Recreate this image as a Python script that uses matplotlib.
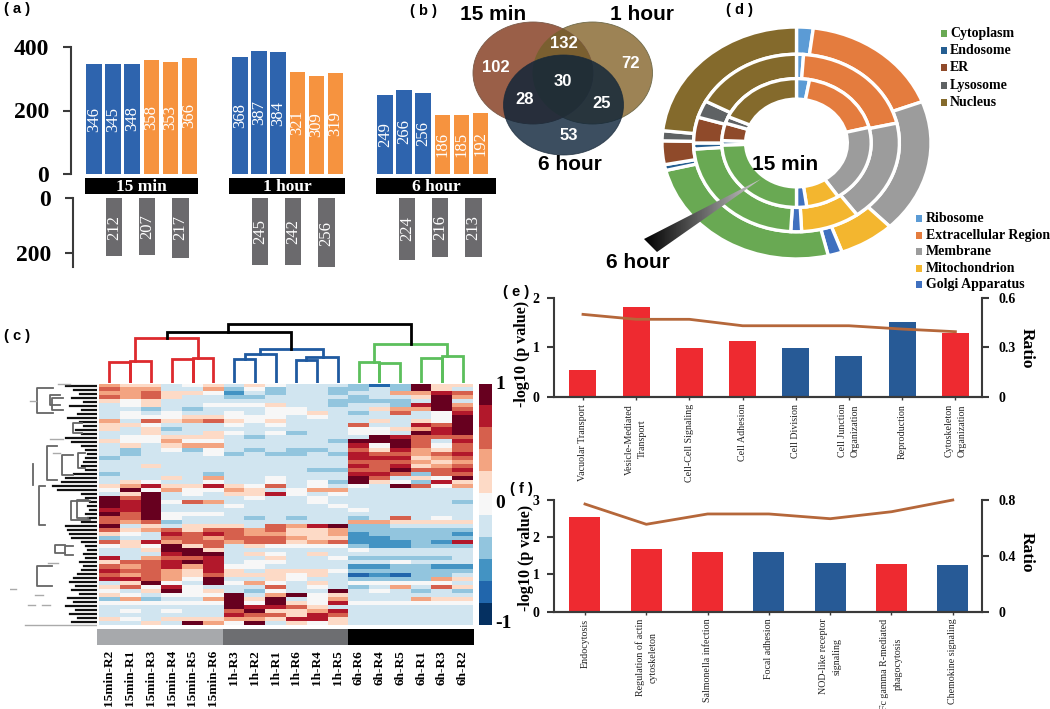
"""Multi-panel proteomics figure: counts, Venn, heatmap, donut, enrichment bars."""

import matplotlib

matplotlib.use("Agg")
import matplotlib.pyplot as plt
import numpy as np
from matplotlib.patches import Ellipse, Polygon, Rectangle

W, H = 1050, 709
SERIF = "Liberation Serif"
SANS = "Liberation Sans"

# panel a
TIME_LABELS = ["15 min", "1 hour", "6 hour"]
UP_BLUE = [[346, 345, 348], [368, 387, 384], [249, 266, 256]]
UP_ORANGE = [[358, 353, 366], [321, 309, 319], [186, 185, 192]]
DOWN_GRAY = [[212, 207, 217], [245, 242, 256], [224, 216, 213]]

# panel b
VENN_COUNTS = ["102", "132", "72", "30", "28", "25", "53"]

# panel d, clockwise from 12 o'clock
CELL_PARTS = ["Ribosome", "Extracellular Region", "Membrane", "Mitochondrion", "Golgi Apparatus",
              "Cytoplasm", "Endosome", "ER", "Lysosome", "Nucleus"]
RING_15MIN = [2.8, 18.3, 19.5, 7.2, 2.2, 24.5, 1.1, 4.4, 1.7, 18.3]
RING_1H = [1.1, 20.3, 18.6, 9.2, 1.7, 23.0, 1.1, 4.7, 3.1, 17.2]
RING_6H = [2.0, 17.2, 18.6, 6.7, 1.7, 25.0, 0.8, 3.3, 1.4, 23.3]

# panel c, colour levels -5..5 read per row (top to bottom)
SAMPLES = ["15min-R2", "15min-R1", "15min-R3", "15min-R4", "15min-R5", "15min-R6",
           "1h-R3", "1h-R2", "1h-R1", "1h-R6", "1h-R4", "1h-R5",
           "6h-R6", "6h-R4", "6h-R5", "6h-R1", "6h-R3", "6h-R2"]
HEAT_TOP = [
    [2, 1, 1, -1, 0, 1, -1, 1, 0, -1, -1, -1, -2, -4, -2, 5, 1, 1],
    [3, 2, 2, -1, -1, 2, -2, 0, -2, -1, -1, -2, -2, -1, -2, 5, 1, -1],
    [2, 2, 3, 1, 1, 0, -3, -1, -2, -1, -1, -2, -1, -1, 2, 2, 4, 3],
    [3, 2, 3, 1, -1, -1, -2, -2, -1, -1, -1, -1, -2, -1, -1, 1, 5, 2],
    [1, 0, 1, -1, -1, -1, -1, -1, -1, -1, -1, -2, -2, -2, -2, -1, 5, -1],
    [-1, 0, 1, -1, -1, 0, 0, 0, 1, -1, -1, -2, -1, -1, -2, 4, 5, 2],
    [-1, -1, -2, -1, -2, -1, -1, -1, 0, 0, -1, -1, -1, 1, 2, 2, 5, 3],
    [-1, 0, -1, 0, -1, -1, 0, -1, 0, 0, 1, -1, -2, -1, 3, -1, 0, 4],
    [-1, 0, 0, 0, 1, 1, 0, 0, 0, -1, 0, -1, -1, -1, -1, -1, 0, 5],
    [2, -1, 3, 1, 2, 3, 1, 0, 1, -1, -1, -1, -1, 1, -1, 1, 0, 5],
    [1, 1, 0, -1, -1, -1, 0, -1, 0, -1, -1, -1, 3, -1, -1, 4, 3, 5],
    [1, -1, 1, -2, -1, -1, -1, -1, -1, -1, -1, -1, 0, 0, 1, 2, 4, 5],
    [-1, -1, 1, -1, -1, 1, 0, -1, 0, -2, -1, -1, 0, 0, -1, 5, 4, 5],
    [-1, 0, 0, 1, 1, 1, -1, -2, -1, -1, -1, -1, -1, 5, 4, 3, 3, 3],
    [1, 0, 0, 2, 0, 0, -1, -1, -1, -1, -1, -2, 5, 5, 5, 3, -1, 4],
]
HEAT_6H_BLOCK = [
    [-1, 1, -1, 1, 2, 2, -1, -1, -1, -1, -1, -1, 4, 0, 5, 3, 0, 3],
    [-1, -2, -1, 0, -2, 0, -1, -2, -1, -2, -2, -1, 3, 1, 4, 2, 1, 3],
    [-1, -2, -1, -1, -1, 0, -2, -1, -2, -2, -1, -2, 4, 3, 3, 2, 3, 4],
    [-2, -1, -1, -1, -1, -1, -1, -1, -1, -1, -1, -1, 4, 4, 4, 1, 2, 3],
    [-1, -1, -1, -1, -1, -1, -1, -1, -1, -1, -1, -1, 3, 3, 3, 2, 1, 2],
    [-1, -1, 1, -1, -1, -1, -1, -1, -1, -1, -1, -1, 4, 3, 4, 1, 2, 3],
    [-1, -1, -1, -1, -1, -1, -1, -1, -1, -1, -2, -2, 3, 3, 5, 3, 3, 4],
    [-2, -1, -1, -1, -1, -2, -1, -1, -1, -1, -1, -1, 4, 4, 3, -2, 3, 3],
    [-1, -1, -1, 1, -1, 2, -1, -1, 0, -1, -1, -1, 5, 3, -1, 1, 0, 5],
    [-1, 1, 0, -1, -1, 0, -1, -1, 0, -1, 0, -2, 5, 1, 0, -2, 4, 1],
]
HEAT_15MIN_BLOCK = [
    [1, 2, 4, 1, 1, 4, 1, 0, 3, -1, 0, -1, 0, -1, 5, 3, 0, 2],
    [0, 5, 0, 2, 0, 0, 2, 1, -1, 0, 2, 2, -1, -1, -1, -1, -1, -1],
    [-1, 1, 5, -1, 0, -1, 1, 1, 4, 0, -1, 0, -1, -1, -1, -1, -1, -1],
    [5, 3, 5, -1, -1, -1, -1, 0, -1, -1, 0, -1, -1, -1, -1, -1, -1, -1],
    [5, 4, 5, 0, 3, 2, -1, -1, -1, -1, 0, -1, -1, -1, -1, -1, -1, -2],
    [5, 4, 5, -1, -1, -1, 0, -1, -1, -1, -1, 0, -1, -1, -1, -1, -1, -1],
    [4, 4, 5, -1, -1, -1, -1, -1, -1, -1, -1, -1, 0, -1, -1, -1, -1, -1],
    [5, 3, 5, 0, 0, 0, -1, -1, -1, -1, -1, -1, -1, -1, -1, -1, -1, -1],
    [3, 3, 5, 0, -1, -1, -1, -2, -1, -2, -1, -1, -2, -1, 3, -1, 0, -1],
    [3, 2, 3, -2, -1, -1, -1, -1, -1, -1, -1, -1, 2, 2, 1, 1, 1, 1],
    [5, -1, 1, -1, 1, 1, 1, -1, 3, 2, 4, 5, -2, -2, -1, -1, -1, -1],
]
HEAT_MID = [
    [3, 1, 2, 3, 1, 3, 3, 2, 3, 1, 1, 2, -2, -2, -2, -2, -2, -2],
    [1, 0, -1, 4, 3, 4, 3, 2, 2, 1, 1, 2, -3, -2, -2, -2, -2, -3],
    [-2, -1, -1, 3, 3, 2, 3, 3, 3, 2, 1, 1, -3, -3, -2, -2, -2, -2],
    [3, 1, 4, 2, 3, 3, 2, 3, 3, 1, 2, 3, -3, -3, -3, -2, -3, 4],
    [0, 1, 0, 5, 1, 3, -1, 1, 0, 0, 0, 0, -2, -3, -3, -2, -2, -2],
    [-1, -1, 1, 5, 5, 1, -1, -1, -1, -1, -1, -1, 0, -1, -1, -1, -1, -1],
    [-1, -1, -1, 4, 5, 5, -1, 1, 0, -1, 1, -1, -1, -1, -1, -1, -1, -1],
    [4, -1, 2, 3, 3, 4, -1, -1, 1, -1, -1, 0, -2, -2, -2, -2, -2, -1],
    [1, 3, 3, 4, 5, 4, -1, 0, 0, -1, -1, -1, -1, -1, 0, -1, -1, -1],
    [3, 2, 3, 4, 2, 4, 0, 0, -1, -1, -1, -1, -3, -3, -2, -2, -3, -3],
    [4, 3, 3, 2, 1, 4, 1, -1, 1, 1, 1, 0, -2, -2, -2, -2, -2, -2],
    [3, 2, 3, 2, 1, 3, 1, 1, 1, 0, 1, -1, -4, -3, -4, -2, -2, -1],
    [4, 4, 3, 2, 0, 5, -1, -1, 1, 0, -1, -1, -2, -2, -2, -2, 2, 1],
]
HEAT_1H_BLOCK = [
    [-1, 1, 5, 0, -1, 5, 0, 2, 0, -1, 1, -1, 0, 0, 0, 0, 0, -1],
    [1, 3, 0, 4, 0, -1, -1, -1, 3, -1, 0, -1, -2, -1, 2, -1, 3, 1],
    [0, -1, 1, 5, 0, 1, -1, -2, 0, -1, -1, 5, -1, 0, -1, -2, -1, -2],
    [1, 0, -1, 0, 0, 0, 5, -1, 2, 5, 0, 1, -1, -1, -1, -1, -1, -1],
    [-2, 2, -2, -1, -1, 2, 5, 1, 5, -1, 0, 2, -1, -1, -1, 2, 1, 1],
    [0, 0, 0, 0, 0, 0, 5, 0, 5, 1, 0, 4, 0, 0, 0, 0, 0, 0],
    [-1, -1, -1, -1, -1, -1, 5, 4, 4, 3, 1, -1, -1, -1, -1, -1, -1, -1],
    [-1, 0, -1, 0, -1, -1, 3, 5, 1, 1, 2, 4, -1, -1, -1, -1, -1, -1],
    [-1, -1, -1, -1, -1, -1, 4, 3, 3, 1, 4, 3, -1, -1, -1, -1, -1, -1],
    [1, 0, -1, 1, 1, 1, 2, 2, 1, 4, 4, 1, -1, -1, -1, -1, -1, -1],
    [-1, -1, 1, -1, 5, 2, 0, 5, -1, 1, 0, 1, -1, -1, -1, -1, -1, -1],
]

# leaf lengths of the row dendrogram and a few of its brackets
ROW_LEAF_LEN = [30, 22, 16, 24, 12, 26, 14, 18, 28, 16, 12, 20, 14,
                30, 24, 14, 10, 8, 10, 12, 14, 10, 22, 30, 34,
                43, 38, 14, 10, 6, 8, 6, 10, 8, 14, 30, 28, 26, 24,
                14, 10, 8, 12, 10, 16, 12, 14, 18, 22,
                26, 20, 24, 16, 28, 22, 30, 20, 26, 18, 24]
ROW_BRACKETS = [(80, 30, 105, 130), (70, 258, 320, 70), (112, 205, 305, 140), (88, 325, 440, 105),
                (155, 230, 290, 190), (182, 370, 425, 240), (200, 365, 420, 235), (80, 565, 625, 125),
                (125, 60, 95, 160), (120, 50, 80, 150), (205, 225, 270, 225), (135, 500, 525, 165),
                (165, 505, 530, 190), (190, 135, 165, 215)]
ROW_STRAYS = [(0, 18, 632), (60, 78, 70), (55, 75, 680), (95, 120, 682), (75, 100, 652),
              (45, 258, 740), (115, 145, 555), (145, 180, 18), (130, 150, 225), (120, 160, 183)]

# column dendrogram links: x left, x right, top, left foot, right foot
RED_LINKS = [(0.5, 1.5, 63, 0, 0), (1.5, 2.5, 65, 0, 0), (3.5, 4.5, 72, 0, 0), (4.5, 5.5, 75, 0, 0),
             (1.73, 4.78, 135, 65, 75)]
BLUE_LINKS = [(6.5, 7.5, 73, 0, 0), (7.03, 8.5, 88, 73, 0), (9.5, 10.5, 68, 0, 0), (9.97, 11.5, 78, 68, 0),
              (7.75, 10.77, 101, 88, 78)]
GREEN_LINKS = [(12.5, 13.5, 63, 0, 0), (13.5, 14.5, 60, 0, 0), (15.5, 16.5, 75, 0, 0), (16.5, 17.5, 81, 0, 0),
               (13.24, 16.74, 116, 63, 81)]
BLACK_LINKS = [(3.26, 9.26, 153, 135, 101), (6.23, 15.0, 178, 153, 116)]

# panels e, f
TERMS_E = ["Vacuolar Transport", "Vesicle-Mediated\nTransport", "Cell-Cell Signaling", "Cell Adhesion",
           "Cell Division", "Cell Junction\nOrganization", "Reproduction", "Cytoskeleton\nOrganization"]
PVAL_E = [0.54, 1.82, 0.99, 1.13, 0.99, 0.83, 1.50, 1.28]
RATIO_E = [0.499, 0.469, 0.469, 0.43, 0.43, 0.43, 0.41, 0.394]
IS_UP_E = [1, 1, 1, 1, 0, 0, 0, 1]

TERMS_F = ["Endocytosis", "Regulation of actin\ncytoskeleton", "Salmonella infection", "Focal adhesion",
           "NOD-like receptor\nsignaling", "Fc gamma R-mediated\nphagocytosis", "Chemokine signaling"]
PVAL_F = [2.55, 1.68, 1.60, 1.60, 1.30, 1.27, 1.26]
RATIO_F = [0.771, 0.626, 0.70, 0.70, 0.666, 0.716, 0.80]
IS_UP_F = [1, 1, 1, 0, 0, 1, 0]

PART_COLORS = ["#5b9bd5", "#e47c3e", "#9c9c9c", "#f3b62f", "#3f70bf",
               "#69a953", "#255e91", "#8f4a2a", "#5f6264", "#846a2c"]
RED, BLUE = "#ee2a30", "#275a96"
AXIS_DARK = "#3a3a3a"


def px_axes(fig, x0, y0, x1, y1, **kwargs):
    # axes box given in image pixels, y measured from the top
    return fig.add_axes([x0 / W, 1 - y1 / H, (x1 - x0) / W, (y1 - y0) / H], **kwargs)


def strip_axes(ax, keep=("left",)):
    for side, spine in ax.spines.items():
        spine.set_visible(side in keep)
        spine.set_color(AXIS_DARK)
        spine.set_linewidth(1.5)
    ax.patch.set_alpha(0)


def draw_counts(fig):
    top = px_axes(fig, 71, 47, 500, 174)
    strip_axes(top)
    top.set_xlim(71, 500)
    top.set_ylim(0, 400)
    for start, blue, orange in zip([94, 240, 385], UP_BLUE, UP_ORANGE):
        vals = blue + orange
        xs = start + 19.1 * np.arange(6)
        colors = ["#2e64ae"] * 3 + ["#f6933f"] * 3
        top.bar(xs, vals, width=15.5, color=colors)
        for x, v in zip(xs, vals):
            top.text(x, v / 2, str(v), rotation=90, color="white", ha="center", va="center",
                     family=SERIF, fontsize=12)
    top.set_xticks([])
    top.set_yticks([0, 200, 400])
    top.tick_params(axis="y", length=6, width=1.5, color=AXIS_DARK, pad=10)
    for t in top.get_yticklabels():
        t.set(family=SERIF, weight="bold", fontsize=17)

    bottom = px_axes(fig, 73, 198, 500, 267)
    strip_axes(bottom)
    bottom.set_xlim(73, 500)
    bottom.set_ylim(251, 0)
    for start, vals in zip([114, 260, 407], DOWN_GRAY):
        xs = start + 33.2 * np.arange(3)
        bottom.bar(xs, vals, width=16.5, color="#6b6a6d")
        for x, v in zip(xs, vals):
            bottom.text(x, v / 2, str(v), rotation=90, color="white", ha="center", va="center",
                        family=SERIF, fontsize=12)
    bottom.set_xticks([])
    bottom.set_yticks([0, 200])
    bottom.tick_params(axis="y", length=6, width=1.5, color=AXIS_DARK, pad=10)
    for t in bottom.get_yticklabels():
        t.set(family=SERIF, weight="bold", fontsize=17)


def draw_venn(over):
    over.add_patch(Ellipse((592.5, 73), 120, 102, fc="#9d8355", ec="#6f6a4a", lw=0.6))
    over.add_patch(Ellipse((533, 73), 120, 102, fc="#9a5f48", ec="#7a5a48", lw=0.6))
    lens = Ellipse((592.5, 73), 120, 102, fc="#7a5f30", ec="none")
    over.add_patch(lens)
    lens.set_clip_path(Ellipse((533, 73), 120, 102, transform=over.transData))
    over.add_patch(Ellipse((563.5, 105), 120, 100, fc="#0b2238", ec="#1a2a3a", lw=0.6, alpha=0.8))
    spots = [(496, 67), (564, 44), (631, 63), (563, 81), (525, 99), (602, 104), (569, 135)]
    for (x, y), label in zip(spots, VENN_COUNTS):
        over.text(x, y, label, color="white", family=SANS, weight="bold", fontsize=12,
                  ha="center", va="center")
    for x, y, label in [(493, 14, "15 min"), (642, 14, "1 hour"), (570, 165, "6 hour")]:
        over.text(x, y, label, family=SANS, weight="bold", fontsize=15, ha="center", va="center")


def draw_donut(fig, over):
    ax = px_axes(fig, 662, 27, 931, 259)
    for ring, radius, width in [(RING_6H, 1.0, 0.235), (RING_1H, 0.765, 0.21), (RING_15MIN, 0.555, 0.177)]:
        ax.pie(ring, radius=radius, startangle=90, counterclock=False, colors=PART_COLORS,
               wedgeprops={"width": width, "edgecolor": "white", "linewidth": 2.4})
    ax.set_aspect("auto")
    ax.set_xlim(-1.0, 1.0)
    ax.set_ylim(-1.0, 1.0)

    # gray wedge pointing from the 6 hour label to the centre
    tri = Polygon([(761, 179), (644, 239), (657, 252)], transform=over.transData, fc="none", ec="none")
    over.add_patch(tri)
    grad = over.imshow(np.linspace(0, 0.8, 128).reshape(1, -1), cmap="gray", vmin=0, vmax=1,
                       extent=(644, 761, 252, 179), aspect="auto", zorder=3)
    grad.set_clip_path(tri)
    over.set_xlim(0, W)
    over.set_ylim(H, 0)
    over.text(785, 165, "15 min", family=SANS, weight="bold", fontsize=15, ha="center", va="center", zorder=4)
    over.text(638, 263, "6 hour", family=SANS, weight="bold", fontsize=15, ha="center", va="center")

    upper = [5, 6, 7, 8, 9]
    for k, idx in enumerate(upper):
        y = 33.5 + 17.2 * k
        over.add_patch(Rectangle((941, y - 3.5), 6, 7, fc=PART_COLORS[idx], ec="none"))
        over.text(950, y, CELL_PARTS[idx], family=SERIF, weight="bold", fontsize=10, va="center")
    for idx in range(5):
        y = 218.5 + 16.6 * idx
        over.add_patch(Rectangle((916, y - 3.5), 6, 7, fc=PART_COLORS[idx], ec="none"))
        over.text(926, y, CELL_PARTS[idx], family=SERIF, weight="bold", fontsize=10, va="center")


def draw_heatmap(fig):
    rows = HEAT_TOP + HEAT_6H_BLOCK + HEAT_15MIN_BLOCK + HEAT_MID + HEAT_1H_BLOCK
    levels = np.array(rows)
    cmap = plt.get_cmap("RdBu_r", 11)

    ax = px_axes(fig, 99, 384, 473, 625)
    ax.imshow(levels, cmap=cmap, vmin=-5.5, vmax=5.5, aspect="auto", interpolation="nearest")
    ax.axis("off")

    top = px_axes(fig, 99, 322, 473, 383)
    top.set_xlim(0, 18)
    top.set_ylim(0, 183)
    top.axis("off")
    for links, color in [(RED_LINKS, "#dd2a2e"), (BLUE_LINKS, "#1f5aa0"), (GREEN_LINKS, "#5cbf5c"),
                         (BLACK_LINKS, "black")]:
        for x0, x1, h, foot0, foot1 in links:
            top.plot([x0, x0, x1, x1], [foot0, h, h, foot1], color=color, lw=2, solid_joinstyle="miter")

    left = px_axes(fig, 10, 378, 97, 633)
    left.set_xlim(0, 261)
    left.set_ylim(765, 0)
    left.axis("off")
    for i, length in enumerate(ROW_LEAF_LEN):
        y = 24 + 12 * i
        left.plot([258 - length * 3, 258], [y, y], color="#111111", lw=1.6)
    for x, y0, y1, x_end in ROW_BRACKETS:
        left.plot([x_end, x, x, x_end], [y0, y0, y1, y1], color="#666666", lw=1.3)
    for x0, x1, y in ROW_STRAYS:
        left.plot([x0, x1], [y, y], color="#aaaaaa", lw=1)

    strip = px_axes(fig, 97, 629, 474, 645)
    strip.set_xlim(0, 18)
    strip.set_ylim(0, 1)
    strip.axis("off")
    for start, color in zip([0, 6, 12], ["#a7a9ac", "#6d6e71", "black"]):
        strip.barh(0.5, 6, left=start, height=1, color=color)

    for i, name in enumerate(SAMPLES):
        x = 99 + (i + 0.5) * 374 / 18
        fig.text(x / W, 1 - 650 / H, name, rotation=90, ha="center", va="top",
                 family=SERIF, weight="bold", fontsize=9.5)

    bar = px_axes(fig, 479, 384, 492, 625)
    bar.imshow(np.arange(5, -6, -1).reshape(-1, 1), cmap=cmap, vmin=-5.5, vmax=5.5, aspect="auto")
    bar.axis("off")
    for y, label in [(384, "1"), (503, "0"), (623, "-1")]:
        fig.text(495 / W, 1 - y / H, label, family=SERIF, weight="bold", fontsize=14, va="center")


def draw_enrichment(fig, box, terms, pvals, ratios, is_up, first, step, width, p_ticks, r_ticks, ylab_x, ylab_y):
    ax = px_axes(fig, *box)
    strip_axes(ax, keep=("left", "bottom"))
    xs = first + step * np.arange(len(terms))
    ax.set_xlim(box[0], box[2])
    ax.set_ylim(0, p_ticks[-1])
    ax.bar(xs, pvals, width=width, color=[RED if up else BLUE for up in is_up])
    ax.set_yticks(p_ticks)
    ax.set_yticklabels([str(t) for t in p_ticks], family=SERIF, weight="bold", fontsize=10)
    ax.set_xticks(xs)
    ax.set_xticklabels(terms, rotation=90, family=SERIF, fontsize=7.2, linespacing=1.6, color="#222222")
    ax.tick_params(axis="y", length=5, width=1.5, color=AXIS_DARK, pad=5)
    ax.tick_params(axis="x", length=2, width=1, color=AXIS_DARK, pad=3)

    twin = ax.twinx()
    strip_axes(twin, keep=("right", "bottom"))
    twin.set_ylim(0, r_ticks[-1])
    twin.plot(xs, ratios, color="#b5673a", lw=2, clip_on=False)
    twin.set_yticks(r_ticks)
    twin.set_yticklabels([str(t) for t in r_ticks], family=SERIF, weight="bold", fontsize=10)
    twin.tick_params(axis="y", length=5, width=1.5, color=AXIS_DARK, pad=7)

    fig.text(ylab_x / W, 1 - ylab_y / H, "-log10 (p value)", rotation=90, ha="center", va="center",
             family=SERIF, weight="bold", fontsize=11.5)
    fig.text(1027 / W, 1 - (ylab_y - 6) / H, "Ratio", rotation=270, ha="center", va="center",
             family=SERIF, weight="bold", fontsize=12.5)


def main():
    fig = plt.figure(figsize=(W / 100, H / 100), dpi=100)
    draw_counts(fig)
    draw_heatmap(fig)
    draw_enrichment(fig, (553.6, 297.7, 982, 396.7), TERMS_E, PVAL_E, RATIO_E, IS_UP_E,
                    583, 53.2, 27, [0, 1, 2], [0, 0.3, 0.6], 522, 354)
    draw_enrichment(fig, (553.6, 500, 982, 611.7), TERMS_F, PVAL_F, RATIO_F, IS_UP_F,
                    585, 61.3, 31, [0, 1, 2, 3], [0, 0.4, 0.8], 526, 558)

    over = fig.add_axes([0, 0, 1, 1], zorder=10)
    over.set_xlim(0, W)
    over.set_ylim(H, 0)
    over.axis("off")
    draw_venn(over)
    draw_donut(fig, over)

    for label, x0, x1 in zip(TIME_LABELS, [85, 229, 376], [198, 345, 496]):
        over.add_patch(Rectangle((x0, 178), x1 - x0, 16, fc="black", ec="none"))
        over.text((x0 + x1) / 2, 187, label, color="white", family=SERIF, weight="bold",
                  fontsize=12.5, ha="center", va="center")

    for label, x, y in [("( a )", 17, 9), ("( b )", 424, 11), ("( c )", 17, 336),
                        ("( d )", 740, 10), ("( e )", 516, 292), ("( f )", 521, 489)]:
        over.text(x, y, label, family=SANS, weight="bold", fontsize=10.5, ha="center", va="center")

    fig.savefig("out.png", dpi=100)
    plt.close(fig)


if __name__ == "__main__":
    main()
